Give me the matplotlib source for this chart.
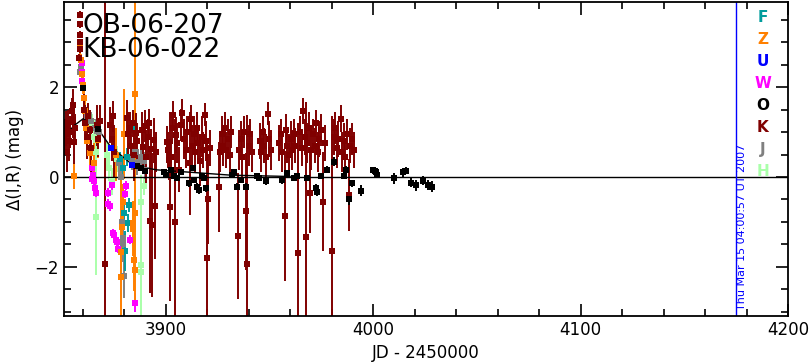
import matplotlib
matplotlib.use("Agg")
import matplotlib.pyplot as plt
from matplotlib.ticker import MultipleLocator

# --- DATA (JD - 2450000, delta mag, error) ---
# K (dark red points, dense nightly clusters)
k_jd = [3851.3, 3851.8, 3852.4, 3852.9, 3853.5, 3854.1, 3854.7, 3855.1, 3855.5, 3856.0, 3856.4,
        3858.4, 3858.5, 3858.6, 3858.7, 3858.8, 3858.9,
        3860.8, 3861.3, 3861.9, 3862.6, 3863.4, 3864.2, 3866.8, 3867.5, 3868.3, 3870.8,
        3873.2, 3873.9, 3874.6, 3875.3,
        3881.2, 3881.9, 3882.7, 3883.4, 3884.1, 3884.8, 3885.6, 3886.3,
        3888.6, 3889.3, 3890.1, 3890.7, 3891.3, 3891.9, 3892.5, 3893.0, 3893.6, 3894.2, 3894.8, 3895.4,
        3900.8, 3901.2, 3901.6, 3902.0, 3902.4, 3903.0, 3903.7, 3904.5, 3904.9, 3905.7, 3906.5, 3907.6, 3908.0,
        3909.0, 3909.8, 3910.5, 3911.7, 3912.0, 3912.8, 3913.5, 3914.2, 3915.0, 3915.8, 3916.5, 3917.3,
        3918.0, 3918.8, 3919.4, 3920.0, 3920.6, 3921.3,
        3925.6, 3926.3, 3927.0, 3927.8, 3928.5, 3929.2, 3930.0, 3930.8, 3931.5,
        3934.8, 3935.5, 3936.2, 3937.0, 3937.8, 3938.6, 3939.4, 3940.2, 3940.9, 3941.7,
        3945.3, 3946.0, 3946.8, 3947.5, 3948.3, 3949.2, 3949.9, 3950.6,
        3954.8, 3955.5, 3956.3, 3957.3, 3957.8, 3958.6, 3959.4, 3960.2, 3961.0, 3961.8, 3962.5,
        3964.0, 3964.8, 3965.5, 3966.3, 3967.0, 3967.5, 3968.2, 3969.0, 3969.4, 3970.2, 3971.0,
        3971.8, 3972.5, 3973.3, 3974.1, 3975.0, 3976.0, 3976.7,
        3980.3, 3981.0, 3981.7, 3982.5, 3983.3, 3984.3, 3985.0, 3985.8, 3986.6, 3987.4, 3988.2,
        3989.0, 3989.8, 3990.6]
k_mag = [0.95, 1.08, 0.55, 1.20, 0.80, 1.00, 1.46, 1.60, 1.27, 0.79, 1.10,
         2.65, 2.85, 3.00, 3.17, 3.40, 3.62,
         1.50, 1.20, 0.90, 1.35, 1.05, 0.65, 1.15, 0.85, 1.25, -1.95,
         1.16, 0.85, 1.35, 0.55,
         1.32, 0.95, 1.10, 0.70, 1.20, 0.50, 0.98, 0.80,
         1.05, 0.67, 1.14, 0.45, 0.90, 1.21, -0.98, 0.62, -1.07, 0.82, -0.64, 0.55,
         0.79, 0.60, 0.38, -0.66, 0.45, 1.09, 1.39, -1.00, 0.94, 0.75, 0.16, 1.16, 1.43,
         0.85, 0.60, 1.00, 0.30, 1.30, 0.70, 0.95, 0.55, 1.10, 0.75, 0.35, 0.90,
         0.60, 1.39, 0.80, -1.81, -0.49, 0.65,
         -0.22, 0.55, 0.95, 0.70, 1.10, 0.60, 0.85, 0.50, 1.00,
         -1.31, 0.60, 0.85, 0.45, 1.00, -0.77, -1.93, 0.70, 0.95, 0.55,
         0.80, 0.55, 1.00, 0.70, 0.45, 1.41, 0.85, 0.60,
         0.75, 0.95, 0.55, -0.87, 1.05, 0.70, 0.50, 0.85, 0.60, 0.95, 0.70,
         -1.70, 1.00, 0.65, 1.47, 0.90, -1.34, 0.75, 1.10, -0.36, 0.60, 0.95,
         0.70, 1.20, 0.55, 0.85, 1.05, -0.55, 0.75,
         -1.65, 0.90, 1.09, 0.65, 0.85, 1.30, 0.55, 0.80, 0.45, 0.95, -0.40,
         0.70, 0.85, 0.60]
k_err = [0.35, 0.40, 0.45, 0.30, 0.45, 0.35, 0.30, 0.35, 0.40, 0.50, 0.30,
         0.08, 0.08, 0.08, 0.08, 0.08, 0.08,
         0.35, 0.40, 0.50, 0.30, 0.45, 0.60, 0.45, 0.40, 0.35, 6.00,
         0.40, 0.50, 0.35, 0.60,
         0.40, 0.50, 0.35, 0.45, 0.30, 0.60, 0.45, 0.40,
         0.40, 0.50, 0.35, 0.60, 0.40, 0.30, 1.60, 0.45, 1.60, 0.50, 1.20, 0.45,
         0.35, 0.40, 0.45, 2.10, 0.40, 0.35, 0.30, 2.30, 0.40, 0.45, 0.50, 0.35, 0.30,
         0.45, 0.40, 0.35, 1.15, 0.30, 0.45, 0.40, 0.45, 0.35, 0.40, 0.55, 0.45,
         0.40, 0.25, 0.45, 2.60, 1.00, 0.40,
         1.00, 0.45, 0.40, 0.45, 0.35, 0.40, 0.45, 0.50, 0.35,
         1.40, 0.45, 0.40, 0.50, 0.35, 1.30, 3.30, 0.45, 0.35, 0.45,
         0.40, 0.45, 0.35, 0.40, 0.50, 0.25, 0.40, 0.45,
         0.40, 0.35, 0.45, 1.45, 0.35, 0.40, 0.45, 0.40, 0.45, 0.35, 0.40,
         2.90, 0.35, 0.40, 0.30, 0.40, 3.00, 0.45, 0.35, 0.90, 0.45, 0.35,
         0.40, 0.30, 0.45, 0.40, 0.35, 1.10, 0.40,
         3.00, 0.40, 0.35, 0.45, 0.40, 0.30, 0.45, 0.40, 0.35, 0.35, 0.80,
         0.40, 0.35, 0.40]

# O (black)
o_jd = [3860.3, 3867.4, 3886.4, 3888.0, 3890.0,
        3899.2, 3900.0, 3902.4, 3904.0, 3905.3, 3907.2, 3911.2, 3913.3, 3913.6, 3915.3, 3916.0,
        3917.7, 3918.5, 3919.3,
        3932.1, 3932.9, 3934.6, 3936.1, 3938.6, 3944.2, 3945.0, 3948.2, 3956.2, 3958.7, 3961.8, 3963.5,
        3968.3, 3972.3, 3972.8, 3974.7, 3977.9, 3981.1, 3985.9, 3986.7, 3988.3, 3990.0, 3994.0,
        4000.1, 4000.7, 4001.3, 4002.0, 4010.0, 4014.4, 4016.1, 4018.2, 4020.5, 4024.2, 4026.3, 4028.3]
o_mag = [1.98, 1.06, 0.25, 0.19, 0.14,
         0.12, 0.04, 0.16, 0.01, -0.02, 0.12, -0.14, 0.19, -0.07, -0.22, -0.29,
         0.01, -0.03, -0.25,
         0.04, 0.12, -0.22, -0.07, -0.22, 0.01, -0.03, -0.10, -0.07, 0.08, -0.03, 0.01,
         -0.03, -0.25, -0.33, 0.01, 0.16, 0.34, 0.01, 0.16, -0.50, -0.14, -0.31,
         0.16, 0.13, 0.10, 0.04, -0.03, 0.10, 0.14, -0.13, -0.19, -0.08, -0.18, -0.22]
o_err = [0.05, 0.05, 0.05, 0.05, 0.05,
         0.06, 0.06, 0.06, 0.06, 0.06, 0.06, 0.08, 0.06, 0.06, 0.08, 0.08,
         0.06, 0.06, 0.08,
         0.06, 0.06, 0.08, 0.06, 0.08, 0.06, 0.06, 0.08, 0.08, 0.06, 0.06, 0.06,
         0.06, 0.10, 0.10, 0.06, 0.08, 0.10, 0.06, 0.08, 0.12, 0.08, 0.12,
         0.06, 0.06, 0.06, 0.06, 0.12, 0.10, 0.08, 0.10, 0.12, 0.10, 0.12, 0.12]

# Z (orange)
z_jd = [3858.8, 3859.2, 3859.6, 3860.0, 3860.5, 3861.0, 3861.5, 3862.2, 3855.6, 3863.5, 3865.5,
        3867.5, 3878.3, 3878.6, 3879.0, 3879.3, 3880.0, 3884.2, 3884.5, 3884.8, 3885.0, 3885.2,
        3885.4, 3876.0]
z_mag = [2.90, 2.60, 2.30, 2.05, 1.75, 1.46, 1.10, 0.80, 0.02, 0.53, 0.30,
         0.83, -2.23, -1.67, -1.11, -0.55, 0.95, -1.03, -1.16, -1.85, 1.85, -2.08,
         -0.80, 0.50]
z_err = [0.15, 0.15, 0.15, 0.20, 0.20, 0.25, 0.30, 0.35, 0.28, 0.40, 0.45,
         0.40, 2.20, 0.50, 0.45, 0.40, 1.00, 0.50, 0.60, 0.70, 2.20, 0.80,
         0.50, 0.60]

# J (grey)
j_jd = [3858.9, 3859.2, 3862.0, 3864.0, 3866.0, 3868.0, 3877.5, 3878.5, 3879.0, 3879.2, 3879.5,
        3879.8, 3884.0, 3885.5, 3886.0, 3888.0, 3889.5, 3890.0]
j_mag = [2.35, 2.45, 1.35, 1.25, 1.10, 1.00, 0.30, 0.00, -1.00, -1.35, -1.50,
         -2.20, 0.40, 0.55, 0.30, 0.45, 0.35, 0.15]
j_err = [0.08, 0.08, 0.15, 0.20, 0.20, 0.25, 0.25, 0.30, 0.35, 0.40, 0.40,
         0.50, 0.25, 0.20, 0.25, 0.25, 0.20, 0.20]

# W (magenta)
w_jd = [3859.5, 3859.7, 3859.9, 3864.5, 3864.7, 3865.2, 3865.5, 3866.0, 3866.5, 3872.0, 3872.2,
        3873.0, 3874.5, 3875.3, 3876.0, 3876.5, 3877.0, 3880.5, 3880.7, 3882.6, 3885.2, 3874.0]
w_mag = [2.55, 2.35, 2.15, -0.05, 0.20, 0.05, -0.10, -0.25, -0.35, -0.35, -0.60,
         -0.65, -1.25, -1.30, -1.40, -1.45, -1.60, -0.38, -0.20, -1.40, -2.80, -0.18]
w_err = [0.10, 0.10, 0.10, 0.08, 0.08, 0.10, 0.10, 0.10, 0.10, 0.10, 0.10,
         0.10, 0.10, 0.10, 0.10, 0.10, 0.10, 0.10, 0.10, 0.10, 0.22, 0.10]

# F (teal)
f_jd = [3883.6, 3878.0, 3879.5, 3881.5, 3882.5, 3881.8, 3880.3, 3879.8]
f_mag = [1.09, 0.40, 0.20, 0.45, -0.63, -1.03, -1.65, -0.80]
f_err = [0.10, 0.15, 0.20, 0.20, 0.15, 0.20, 0.45, 0.30]

# H (pale green)
h_jd = [3864.5, 3865.5, 3866.3, 3866.3, 3871.5, 3872.5, 3874.0, 3876.5, 3888.0, 3888.0, 3888.3, 3889.5]
h_mag = [1.20, 0.90, 0.55, -0.89, 0.50, 0.20, -0.10, 0.40, -0.55, -1.97, -2.12, -0.20]
h_err = [0.20, 0.25, 0.30, 1.30, 0.30, 0.30, 0.30, 0.30, 0.60, 1.20, 1.30, 0.20]

# U (blue)
u_jd = [3873.5, 3884.0]
u_mag = [0.64, 0.27]
u_err = [0.05, 0.05]

# black curve through the early part
curve_jd = [3851.0, 3852.6, 3856.0, 3860.3, 3864.0, 3867.7, 3873.5, 3884.1, 3895.2, 3931.3, 3960.0]
curve_mag = [0.92, 0.98, 1.15, 1.30, 1.18, 1.05, 0.67, 0.27, 0.16, 0.04, 0.01]

series = [
    ('H', h_jd, h_mag, h_err, '#aaffaa'),
    ('J', j_jd, j_mag, j_err, '#808080'),
    ('F', f_jd, f_mag, f_err, '#009c9c'),
    ('W', w_jd, w_mag, w_err, '#ff00ff'),
    ('Z', z_jd, z_mag, z_err, '#ff8000'),
    ('K', k_jd, k_mag, k_err, '#800000'),
    ('O', o_jd, o_mag, o_err, '#000000'),
    ('U', u_jd, u_mag, u_err, '#0000ff'),
]
legend_order = ['F', 'Z', 'U', 'W', 'O', 'K', 'J', 'H']
colors = {s[0]: s[4] for s in series}

# --- PLOT ---
fig = plt.figure(figsize=(8.1, 3.62), dpi=100)
ax = fig.add_axes([64 / 810, 46 / 362, 724 / 810, 314 / 362])

for name, x, y, e, c in series:
    ax.errorbar(x, y, yerr=e, fmt='s', color=c, ms=4, elinewidth=1.4,
                capsize=2.5, capthick=1.4, mew=0)

ax.plot(curve_jd, curve_mag, color='black', lw=1)
ax.axhline(0, color='black', lw=1)
ax.axvline(4174.7, color='blue', lw=1)

ax.set_xlim(3851, 4200)
ax.set_ylim(-3.1, 3.9)
ax.xaxis.set_major_locator(MultipleLocator(100))
ax.xaxis.set_minor_locator(MultipleLocator(20))
ax.yaxis.set_major_locator(MultipleLocator(2))
ax.yaxis.set_minor_locator(MultipleLocator(0.5))
ax.tick_params(which='both', direction='in', top=True, right=True, width=1.2, labelsize=12)
ax.tick_params(which='major', length=9)
ax.tick_params(which='minor', length=5)
for sp in ax.spines.values():
    sp.set_linewidth(1.3)

ax.set_xlabel('JD - 2450000', fontsize=12, labelpad=4)
ax.set_ylabel('Δ(I,R) (mag)', fontsize=12, labelpad=8)

# event names, one text block with two lines
ax.text(0.025, 0.965, 'OB-06-207\nKB-06-022', transform=ax.transAxes, fontsize=19,
        va='top', linespacing=0.88)

for i, name in enumerate(legend_order):
    py = 17 + i * 22.1
    ax.text((763 - 64) / 724, (316 - py) / 314, name, transform=ax.transAxes,
            color=colors[name], fontsize=11, fontweight='bold', ha='center', va='center')

ax.text((742 - 64) / 724, 0.02, 'Thu Mar 15 04:00:57 UT 2007', transform=ax.transAxes,
        color='blue', fontsize=8, rotation=90, ha='center', va='bottom')

fig.savefig('out.png', dpi=100)
